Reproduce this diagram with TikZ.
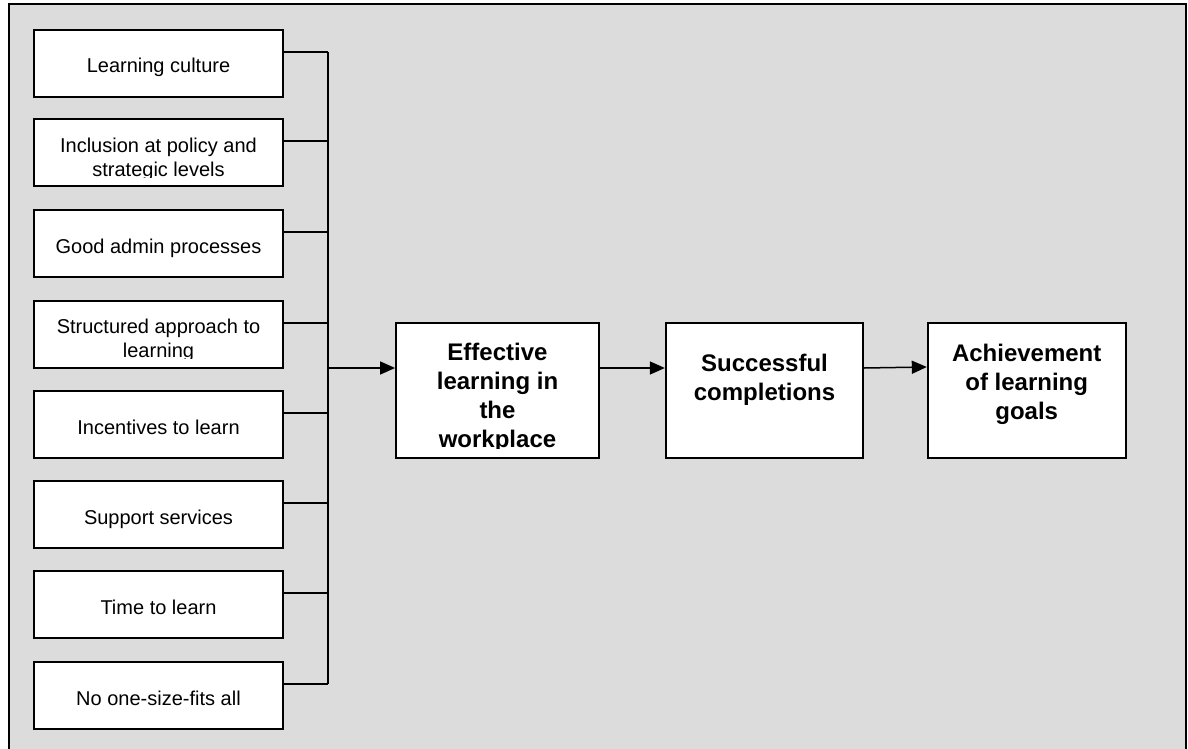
\documentclass[tikz,border=0pt]{standalone}
\usepackage{fontspec}
\setmainfont{Liberation Sans}
\usetikzlibrary{arrows.meta}
\definecolor{bggray}{RGB}{220,220,220}
\begin{document}
\begin{tikzpicture}[x=1pt,y=-1pt,
  box/.style={draw=black, line width=1.8pt, fill=white, inner sep=0pt, minimum width=249pt, minimum height=67pt},
  bigbox/.style={draw=black, line width=1.8pt, fill=white, inner sep=0pt, minimum height=135pt},
  small/.style={font=\fontsize{20}{24}\selectfont, inner sep=0pt, anchor=base, align=center},
  big/.style={font=\fontsize{24}{29}\selectfont\bfseries, inner sep=0pt, anchor=base, align=center},
  conn/.style={line width=1.5pt},
  arr/.style={line width=1.5pt, -{Triangle[length=15pt,width=13pt]}}]
\useasboundingbox (0,0) rectangle (1188,749);
% background frame
\fill[bggray] (8.5,4.5) rectangle (1185.5,749);
\draw[line width=2pt] (8.5,749) -- (8.5,4.5) -- (1185.5,4.5) -- (1185.5,749);

% left boxes
\node[box] (b1) at (158.5,63.5) {};
\node[box] (b2) at (158.5,152.5) {};
\node[box] (b3) at (158.5,243.5) {};
\node[box] (b4) at (158.5,334.5) {};
\node[box] (b5) at (158.5,424.5) {};
\node[box] (b6) at (158.5,514.5) {};
\node[box] (b7) at (158.5,604.5) {};
\node[box] (b8) at (158.5,695.5) {};

\node[small] (t1) at (158.5,72.5) {Learning culture};
\begin{scope}
  \clip (36,120) rectangle (281,177.5);
  \node[small] (t2) at (158.5,176.7) {Inclusion at policy and\\strategic levels};
\end{scope}
\node[small] (t3) at (158.5,253) {Good admin processes};
\begin{scope}
  \clip (36,302) rectangle (281,358);
  \node[small] (t4) at (158.5,357.3) {Structured approach to\\learning};
\end{scope}
\node[small] (t5) at (158.5,434) {Incentives to learn};
\node[small] (t6) at (158.5,524) {Support services};
\node[small] (t7) at (158.5,614) {Time to learn};
\node[small] (t8) at (158.5,705) {No one-size-fits all};

% bus
\coordinate (bustop) at (328,52);
\coordinate (busbot) at (328,684);
\coordinate (junction) at (328,368);
\foreach \b in {b1,b2,b3,b4,b5,b6,b7,b8}{
  \draw[conn] ([yshift=11.5pt]\b.east) -- ([yshift=11.5pt]\b.east -| bustop);
}
\draw[conn] (bustop) -- (busbot);

% right boxes
\node[bigbox, minimum width=203pt] (eff) at (497.5,390.5) {};
\node[bigbox, minimum width=197.5pt] (succ) at (764.5,390.5) {};
\node[bigbox, minimum width=198pt] (ach) at (1026.7,390.5) {};

\begin{scope}
  \clip (398,325) rectangle (597,448);
  \node[big] (teff) at (497.5,447) {Effective\\learning in\\the\\workplace};
\end{scope}
\node[big] (tsucc) at (764.5,400) {Successful\\completions};
\node[big] (tach) at (1026.7,419) {Achievement\\of learning\\goals};

% arrows
\draw[arr] (junction) -- (junction -| eff.west);
\draw[arr] ([yshift=22.5pt]eff.east) -- ([yshift=22.5pt]succ.west);
\draw[arr] ([yshift=22.5pt]succ.east) -- ([yshift=23.5pt]ach.west);
\end{tikzpicture}
\end{document}
